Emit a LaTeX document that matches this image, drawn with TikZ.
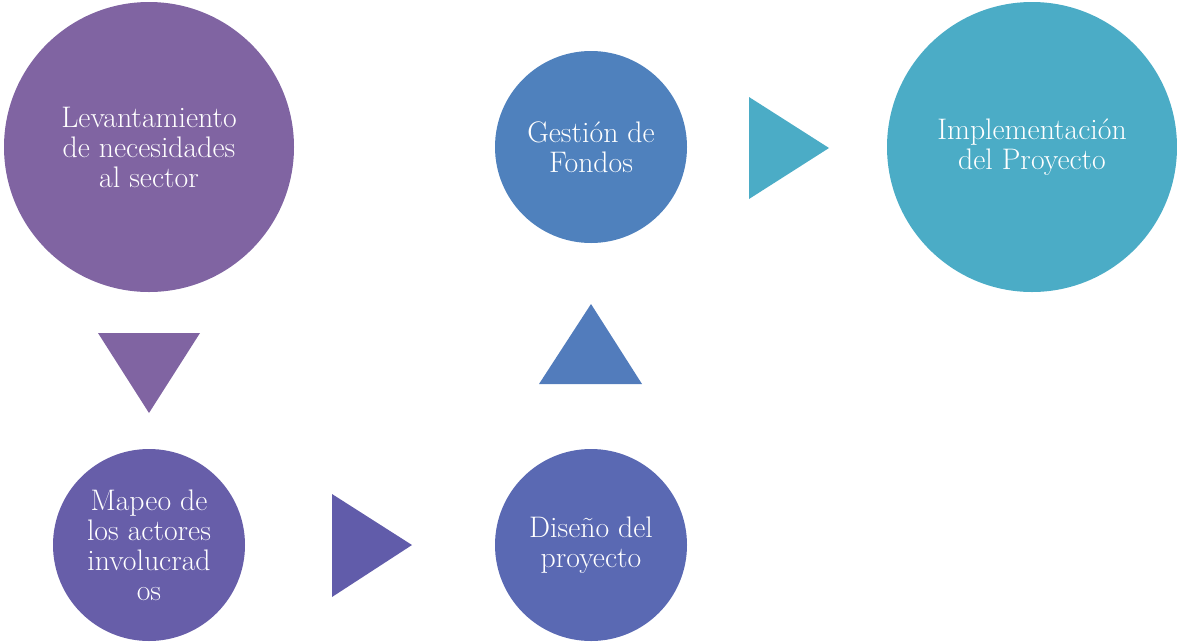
\documentclass[tikz,border=0pt]{standalone}
\usepackage{fontspec}
\begin{document}
\begin{tikzpicture}[x=0.75pt,y=-0.75pt,
  stage/.style={circle,inner sep=0pt,text=white,align=center,
    font=\fontsize{22.3}{22.5}\selectfont},
  big/.style={stage,minimum size=217.5pt},
  small/.style={stage,minimum size=144pt},
  tri/.style={draw=none}]
\definecolor{cA}{HTML}{8064A2}
\definecolor{cB}{HTML}{675EA9}
\definecolor{cC}{HTML}{5A69B3}
\definecolor{cD}{HTML}{4F81BD}
\definecolor{cE}{HTML}{4BACC6}
\definecolor{tB}{HTML}{615CAA}
\definecolor{tC}{HTML}{527CBC}
\useasboundingbox (0,0) rectangle (1177,643);
\node[big,fill=cA] (n1) at (149,147) {Levantamiento\\de necesidades\\al sector};
\node[small,fill=cB] (n2) at (149,545) {Mapeo de\\los actores\\involucrad\\os};
\node[small,fill=cC] (n3) at (591,545) {Diseño del\\proyecto};
\node[small,fill=cD] (n4) at (591,147) {Gestión de\\Fondos};
\node[big,fill=cE] (n5) at (1032,147) {Implementación\\del Proyecto};
\fill[cA] (98,333) -- (200,333) -- (149,413) -- cycle;
\fill[tB] (332,494) -- (412,545) -- (332,597) -- cycle;
\fill[tC] (539,384) -- (591,304) -- (642,384) -- cycle;
\fill[cE] (749,97) -- (829,148) -- (749,199) -- cycle;
\end{tikzpicture}
\end{document}
